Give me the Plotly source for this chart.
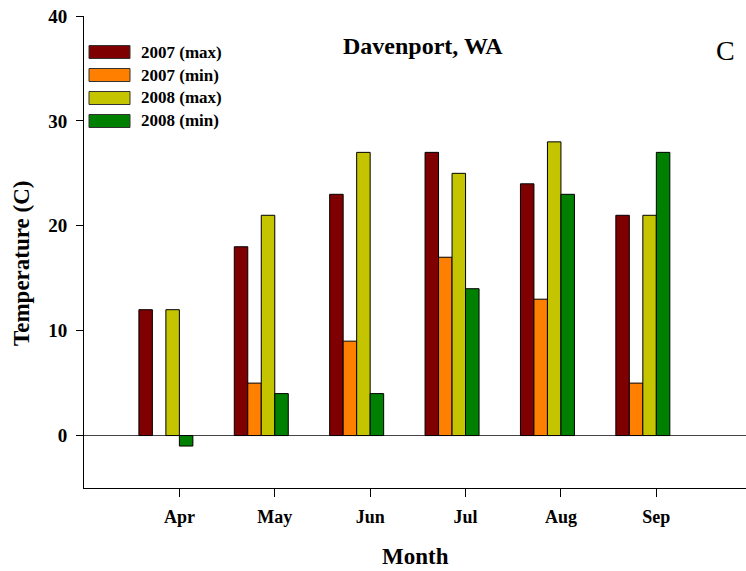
import plotly.graph_objects as go

# ---- data ----
months = ["Apr", "May", "Jun", "Jul", "Aug", "Sep"]
month_pos = [4, 5, 6, 7, 8, 9]
series_names = ["2007 (max)", "2007 (min)", "2008 (max)", "2008 (min)"]
max_2007 = [12, 18, 23, 27, 24, 21]
min_2007 = [None, 5, 9, 17, 13, 5]
max_2008 = [12, 21, 27, 25, 28, 21]
min_2008 = [-1, 4, 4, 14, 23, 27]
colors = ["#7f0000", "#ff8000", "#c4c400", "#008000"]

series = [max_2007, min_2007, max_2008, min_2008]

W, H = 746, 571
L, R, T, B = 84, 746, 16, 488  # plot area in px


def px(xp):
    return (xp - L) / (R - L)


def py(yp):
    return (B - yp) / (B - T)


bw = 0.1415
offsets = [-2.5 * bw, -1.5 * bw, -0.5 * bw, 0.5 * bw]

fig = go.Figure()
for name, vals, col, off in zip(series_names, series, colors, offsets):
    fig.add_trace(go.Bar(
        x=[m + off for m in month_pos], y=vals, width=bw, name=name,
        marker=dict(color=col, line=dict(color="black", width=1)),
        showlegend=False,
    ))

font = "Liberation Serif"

shapes = []
annotations = []
# custom legend (wide swatches like the original)
row_y = [52, 75, 98, 121]
for name, col, yc in zip(series_names, colors, row_y):
    shapes.append(dict(type="rect", xref="paper", yref="paper",
                       x0=px(89), x1=px(130), y0=py(yc + 6.5), y1=py(yc - 6.5),
                       fillcolor=col, line=dict(color="#333333", width=1)))
    annotations.append(dict(xref="paper", yref="paper", x=px(139), y=py(yc),
                            text=f"<b>{name}</b>", showarrow=False,
                            xanchor="left", yanchor="middle",
                            font=dict(size=17, color="black", family=font)))

annotations += [
    dict(xref="paper", yref="paper", x=px(423), y=py(46), text="<b>Davenport, WA</b>",
         showarrow=False, xanchor="center", yanchor="middle",
         font=dict(size=24, color="black", family=font)),
    dict(xref="paper", yref="paper", x=px(725), y=py(50), text="C",
         showarrow=False, xanchor="center", yanchor="middle",
         font=dict(size=28, color="black", family=font)),
    dict(xref="paper", yref="paper", x=px(415), y=py(556), text="<b>Month</b>",
         showarrow=False, xanchor="center", yanchor="middle",
         font=dict(size=23, color="black", family=font)),
    dict(xref="paper", yref="paper", x=px(21), y=py(264), text="<b>Temperature (C)</b>",
         showarrow=False, xanchor="center", yanchor="middle", textangle=-90,
         font=dict(size=23, color="black", family=font)),
]

fig.update_layout(
    width=W, height=H,
    margin=dict(l=L, r=W - R, t=T, b=H - B, pad=0),
    paper_bgcolor="white", plot_bgcolor="white",
    barmode="overlay",
    font=dict(family=font, color="black"),
    shapes=shapes, annotations=annotations,
    xaxis=dict(range=[3.0, 9.94], tickvals=month_pos, ticktext=[f"<b>{m}</b>" for m in months],
               ticks="outside", ticklen=8, tickwidth=1, tickcolor="black",
               showline=True, linecolor="black", linewidth=1, showgrid=False,
               zeroline=False, tickfont=dict(size=18, family=font),
               ticklabelstandoff=4, fixedrange=True),
    yaxis=dict(range=[-5, 40], tickvals=[0, 10, 20, 30, 40],
               ticktext=["<b>0</b>", "<b>10</b>", "<b>20</b>", "<b>30</b>", "<b>40</b>"],
               ticks="outside", ticklen=7, tickwidth=1, tickcolor="black",
               showline=True, linecolor="black", linewidth=1, showgrid=False,
               zeroline=True, zerolinecolor="#444444", zerolinewidth=1.3,
               tickfont=dict(size=19, family=font), ticklabelstandoff=5,
               fixedrange=True),
)

fig.write_html("out.html")
